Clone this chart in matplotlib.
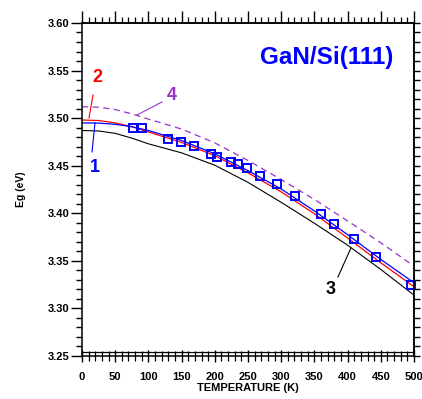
import matplotlib.pyplot as plt
from matplotlib.ticker import MultipleLocator

plt.rcParams["font.family"] = ["Liberation Sans", "DejaVu Sans"]
plt.rcParams["font.weight"] = "bold"

# measured points (squares)
T_exp = [77, 90, 130, 149, 168, 194, 203, 225, 235, 248, 268, 293, 321, 360, 379, 409, 443, 495]
Eg_exp = [3.490, 3.490, 3.478, 3.475, 3.471, 3.462, 3.459, 3.454, 3.452, 3.448, 3.439, 3.431,
          3.418, 3.399, 3.389, 3.373, 3.354, 3.325]

# fitted curves
T_fit = [0, 25, 50, 75, 100, 150, 200, 250, 300, 350, 400, 450, 500]
Eg_1 = [3.495, 3.4948, 3.4935, 3.491, 3.487, 3.4765, 3.4625, 3.4448, 3.4255, 3.4025, 3.3775, 3.3515, 3.327]
Eg_2 = [3.498, 3.4975, 3.495, 3.491, 3.4855, 3.4745, 3.4605, 3.4425, 3.4225, 3.3995, 3.374, 3.348, 3.3228]
Eg_3 = [3.487, 3.4865, 3.484, 3.479, 3.473, 3.4635, 3.4505, 3.4325, 3.4115, 3.3895, 3.3665, 3.341, 3.314]
Eg_4 = [3.512, 3.5115, 3.509, 3.5045, 3.499, 3.4885, 3.474, 3.4555, 3.4355, 3.4145, 3.392, 3.369, 3.3445]

PURPLE = "#9933cc"

fig = plt.figure(figsize=(4.22, 3.99), dpi=100)
ax = fig.add_axes([0.1943, 0.1078, 0.7867, 0.8346])

ax.plot(T_fit, Eg_3, color="black", lw=0.8)
ax.plot(T_fit, Eg_2, color="red", lw=0.9)
ax.plot(T_fit, Eg_1, color="blue", lw=0.9)
ax.plot(T_fit, Eg_4, color=PURPLE, lw=0.9, ls=(0, (5, 3.5)))
ax.plot(T_exp, Eg_exp, ls="none", marker="s", ms=5.5, mfc="none", mec="blue", mew=1.4, clip_on=False)

ax.set_xlim(0, 500)
ax.set_ylim(3.25, 3.60)
ax.axhline(3.2537, color="black", lw=0.9)

ax.xaxis.set_major_locator(MultipleLocator(50))
ax.xaxis.set_minor_locator(MultipleLocator(10))
ax.yaxis.set_major_locator(MultipleLocator(0.05))
ax.yaxis.set_minor_locator(MultipleLocator(0.01))
ax.yaxis.set_major_formatter(plt.FormatStrFormatter("%.2f"))

ax.tick_params(axis="y", which="major", direction="out", length=8, width=1, labelsize=8, pad=1)
ax.tick_params(axis="y", which="minor", direction="out", length=4.5, width=1)
ax.tick_params(axis="x", which="major", direction="inout", length=9, width=1, labelsize=8, pad=7)
ax.tick_params(axis="x", which="minor", direction="inout", length=6.5, width=0.9)

top = ax.secondary_xaxis("top")
top.xaxis.set_major_locator(MultipleLocator(50))
top.xaxis.set_minor_locator(MultipleLocator(10))
top.tick_params(which="major", direction="out", length=8.5, width=1, labeltop=False)
top.tick_params(which="minor", direction="out", length=4.3, width=0.9)

right = ax.secondary_yaxis("right")
right.yaxis.set_major_locator(MultipleLocator(0.05))
right.yaxis.set_minor_locator(MultipleLocator(0.01))
right.tick_params(which="both", direction="out", length=4, width=1, labelright=False)

for sp in list(ax.spines.values()) + [top.spines["top"], right.spines["right"]]:
    sp.set_linewidth(1.1)

ax.set_xlabel("TEMPERATURE (K)", fontsize=8, fontweight="bold", labelpad=1)
ax.set_ylabel("Eg (eV)", fontsize=7.5, fontweight="bold", labelpad=15.5)

ax.text(369, 3.5632, "GaN/Si(111)", color="blue", fontsize=17.5, fontweight="bold",
        ha="center", va="center")

# curve labels with leader lines
ax.text(22.6, 3.5422, "2", color="red", fontsize=13, fontweight="bold", ha="center", va="center")
ax.plot([16.6, 10.5], [3.5243, 3.5001], color="red", lw=0.8)
ax.text(135.5, 3.5233, "4", color=PURPLE, fontsize=13, fontweight="bold", ha="center", va="center")
ax.plot([120.5, 82.8], [3.517, 3.5033], color=PURPLE, lw=0.8)
ax.text(19.6, 3.4486, "1", color="blue", fontsize=13, fontweight="bold", ha="center", va="center")
ax.plot([19.6, 15.1], [3.4949, 3.4644], color="blue", lw=0.8)
ax.text(375, 3.3194, "3", color="black", fontsize=13, fontweight="bold", ha="center", va="center")
ax.plot([405, 385.5], [3.3635, 3.333], color="black", lw=0.8)

fig.savefig("out.png", dpi=100)
